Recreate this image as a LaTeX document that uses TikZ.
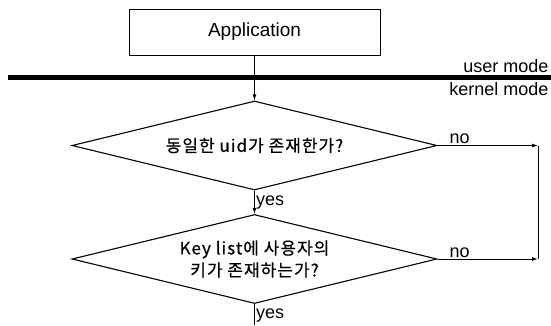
\documentclass[tikz,border=0pt]{standalone}
\usepackage{fontspec}
\setmainfont{Liberation Sans}
\newfontfamily\kor[LetterSpace=6, FakeBold=0.4]{Noto Sans CJK KR}
\usetikzlibrary{arrows.meta, positioning, shapes.geometric}
\tikzset{
  every picture/.style={line width=1pt},
  box/.style={draw, rectangle, inner sep=0pt, minimum width=251pt, minimum height=46pt, font=\fontsize{19}{22}\selectfont},
  test/.style={draw, diamond, aspect=4.1, inner sep=0pt, minimum width=365pt, minimum height=89pt, align=center, font=\kor\fontsize{17}{22}\selectfont, line width=1.1pt},
  arrow/.style={-{Latex[length=6pt, width=4pt]}},
  lab/.style={font=\fontsize{18}{20}\selectfont, inner sep=1pt},
}
\begin{document}
\begin{tikzpicture}[x=1pt, y=-1pt,
  mode/.style={font=\fontsize{18}{20}\selectfont, anchor=east, inner sep=1pt}]
  \useasboundingbox (0,0) rectangle (551,325);
  \node[box] (app) at (254.5,32) {Application};
  % user / kernel boundary
  \coordinate (bl) at (8,77.5);
  \coordinate (br) at (551,77.5);
  \draw[line width=4.5pt] (bl) -- (br);
  \node[mode, anchor=south east] (um) at (550,74) {user mode};
  \node[mode, anchor=north east] (km) at (550,81) {kernel mode};
  \node[test] (uid) at (254.5,145.5) {동일한 uid가 존재한가?};
  \node[test] (key) at (254.5,259) {Key list에 사용자의\\키가 존재하는가?};
  \coordinate (n1) at (538,145.5);
  \coordinate (n2) at (538,259);
  \coordinate (out) at (254.5,325);
  \draw[arrow] (app) -- (uid);
  \draw[arrow] (uid) -- node[lab, right, pos=0.5] {yes} (key);
  \draw (key) -- node[lab, right, pos=0.55] {yes} (out);
  \draw[arrow] (uid.east) -- node[lab, above, pos=0.22] {no} (n1);
  \draw[arrow] (key.east) -- node[lab, above, pos=0.22] {no} (n2);
  \draw (n1) -- (n2);
\end{tikzpicture}
\end{document}
